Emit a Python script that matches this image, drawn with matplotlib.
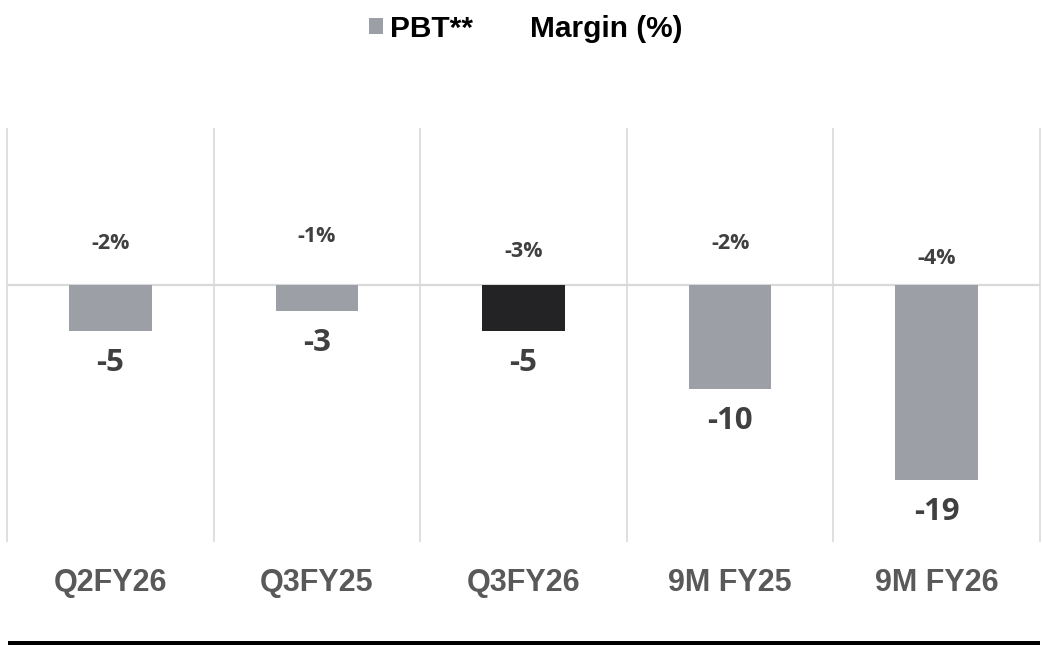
import numpy as np
import matplotlib
matplotlib.use("Agg")
import matplotlib.pyplot as plt
from matplotlib.patches import Patch, Rectangle
from matplotlib.lines import Line2D

# === Data ===
categories = ['Q2FY26', 'Q3FY25', 'Q3FY26', '9M FY25', '9M FY26']
pbt = [-4.5, -2.5, -4.5, -10.1, -19.0]
pbt_labels = ['-5', '-3', '-5', '-10', '-19']
margin_pct = [-2, -1, -3, -2, -4]
margin_labels = ['-2%', '-1%', '-3%', '-2%', '-4%']
highlight = 'Q3FY26'

GRAY = '#9c9fa6'
DARK = '#232326'
GRID = '#d9d9d9'
VALUE_TXT = '#404040'
CAT_TXT = '#595959'

W, H = 1042, 645
fig = plt.figure(figsize=(W / 100, H / 100), dpi=100)
ax = fig.add_axes([7 / W, (H - 542) / H, (1040 - 7) / W, (542 - 128) / H])

x = np.arange(len(categories))
colors = [DARK if c == highlight else GRAY for c in categories]
ax.bar(x, pbt, width=0.4, color=colors, zorder=3)

ax.set_xlim(-0.5, len(categories) - 0.5)
ax.set_ylim(-25.05, 15.3)

# category separators + zero line
ax.vlines(np.arange(len(categories) + 1) - 0.5, -25.05, 15.3,
          colors=GRID, linewidth=1.2, zorder=1, clip_on=False)
ax.axhline(0, color=GRID, linewidth=1.6, zorder=2)

for s in ax.spines.values():
    s.set_visible(False)
ax.set_yticks([])
ax.set_xticks(x, categories)
ax.tick_params(axis='x', length=0, pad=19)
for lbl in ax.get_xticklabels():
    lbl.set_fontfamily('Liberation Sans')
    lbl.set_fontweight('bold')
    lbl.set_fontsize(22)
    lbl.set_color(CAT_TXT)

# PBT value labels under the bars
for xi, v, t in zip(x, pbt, pbt_labels):
    ax.annotate(t, (xi, v), xytext=(0, -23), textcoords='offset points',
                ha='center', va='center', fontsize=22.5, fontweight='bold',
                family='Open Sans', color=VALUE_TXT)

# margin labels on a secondary scale
ax2 = ax.twinx()
ax2.set_ylim(-41.8, 13.4)
ax2.axis('off')
for xi, m, t in zip(x, margin_pct, margin_labels):
    ax2.text(xi, m, t, ha='center', va='center', fontsize=15.5,
             fontweight='bold', family='Open Sans', color=VALUE_TXT)

# legend
handles = [Patch(facecolor=GRAY, edgecolor='none'),
           Line2D([], [], color='none')]
fig.legend(handles, ['PBT**', 'Margin (%)'], loc='center', ncol=2,
           bbox_to_anchor=(526 / W, 1 - 29 / H), frameon=False,
           prop={'family': 'Liberation Sans', 'weight': 'bold', 'size': 21.5},
           handlelength=0.45, handleheight=0.45, handletextpad=0.25,
           columnspacing=1.2)

# bottom rule
fig.add_artist(Rectangle((8 / W, 0), (1040 - 8) / W, 4 / H,
                         transform=fig.transFigure, color='black', lw=0))

fig.savefig('out.png', dpi=100)
